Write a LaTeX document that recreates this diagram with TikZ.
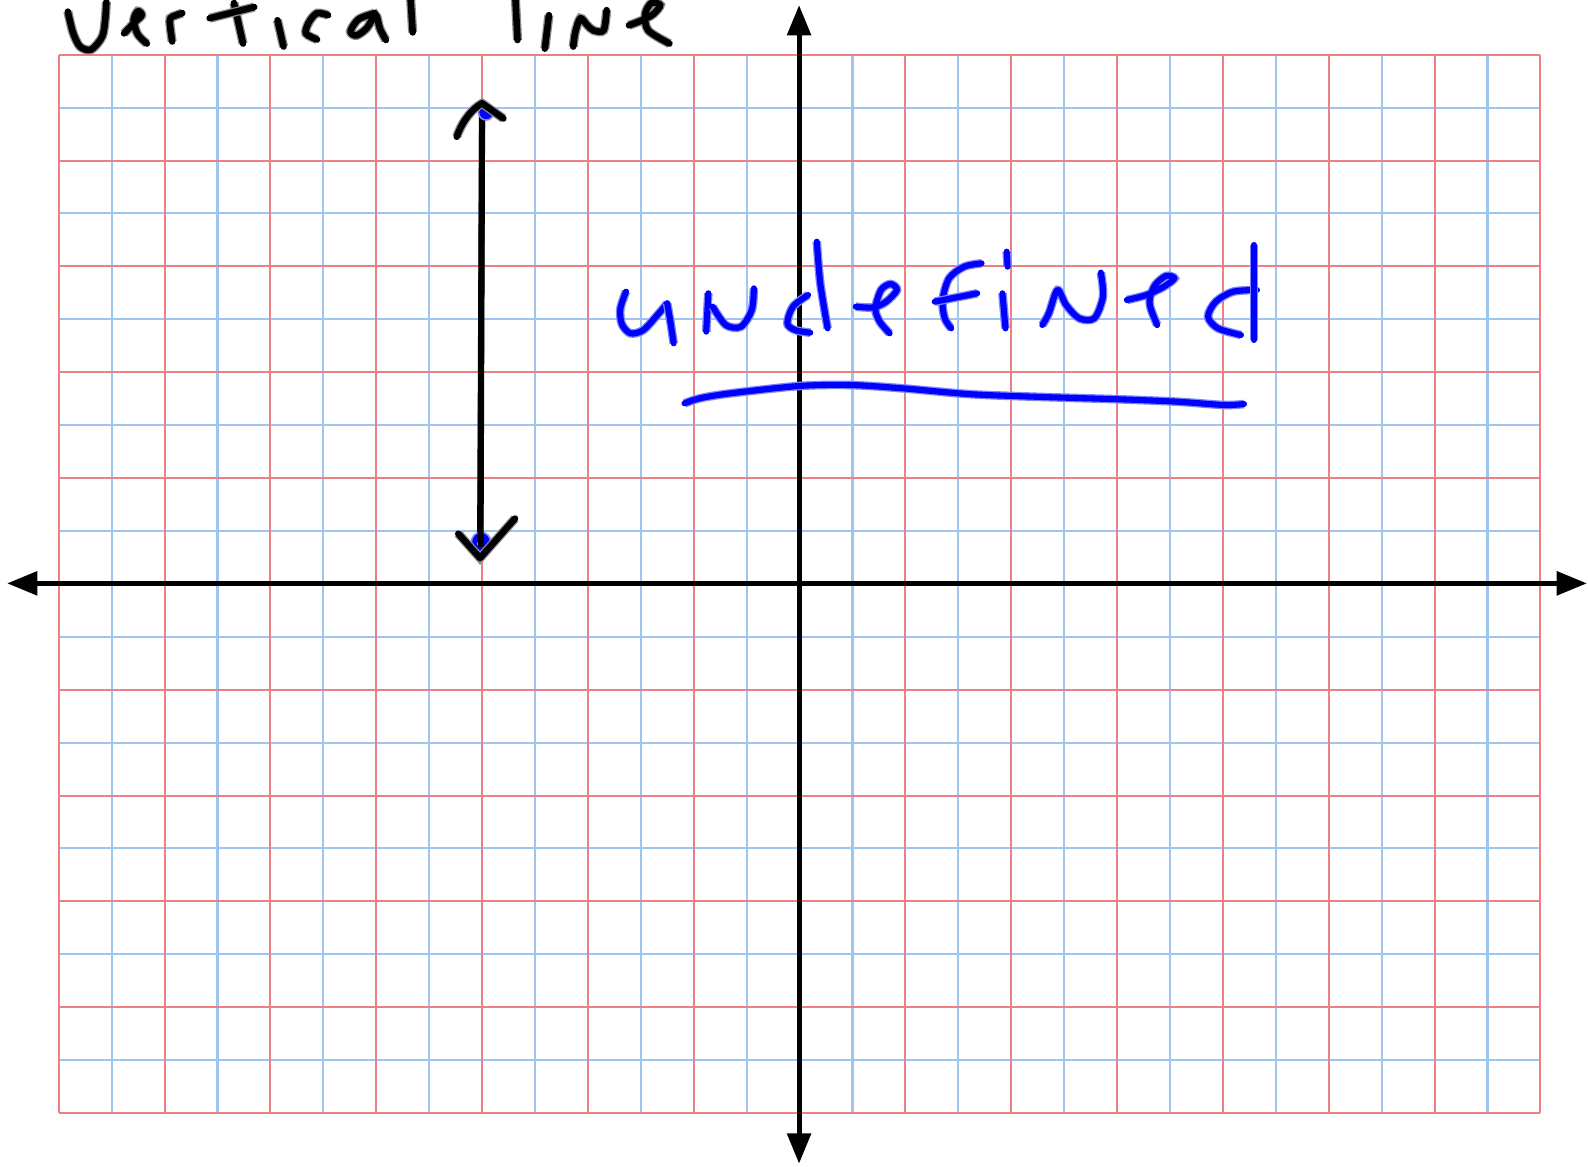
\documentclass[tikz,border=0pt]{standalone}
\usetikzlibrary{arrows.meta}
\definecolor{gridred}{RGB}{236,128,132}
\definecolor{gridblue}{RGB}{160,196,240}
\definecolor{ink}{RGB}{0,0,255}
\definecolor{inkhalo}{RGB}{125,135,255}
\definecolor{penhalo}{RGB}{140,140,140}
\tikzset{
  minorline/.style={gridblue, line width=2pt},
  majorline/.style={gridred, line width=2pt},
  axisline/.style={black, line width=5pt, {Triangle[length=30pt,width=23pt]}-{Triangle[length=30pt,width=23pt]}},
  bluepen/.style={ink, line width=6pt, line cap=round, line join=round, preaction={draw=inkhalo, line width=8.5pt}},
  blackpen/.style={black, line width=6.5pt, line cap=round, line join=round, preaction={draw=penhalo, line width=9pt}},
  shaft/.style={black, line width=6pt},
  bluedot/.style={fill=ink, draw=inkhalo, line width=1.5pt}
}
\begin{document}
\begin{tikzpicture}[x=1pt,y=-1pt]
\useasboundingbox (0,0) rectangle (1568,1152);
\fill[white] (0,0) rectangle (1568,1152);
% grid
\foreach \i in {1,3,...,27} \draw[minorline] ({58+\i*52.25},54) -- ({58+\i*52.25},1099);
\foreach \j in {1,3,...,19} \draw[minorline] (58,{54+\j*52.25}) -- (1521,{54+\j*52.25});
\foreach \i in {0,2,...,28} \draw[majorline] ({58+\i*52.25},54) -- ({58+\i*52.25},1099);
\foreach \j in {0,2,...,20} \draw[majorline] (58,{54+\j*52.25}) -- (1521,{54+\j*52.25});
% axes
\coordinate (xl) at (7,576);
\coordinate (xr) at (1567,576);
\coordinate (yt) at (789,5);
\coordinate (yb) at (789,1149);
\draw[axisline] (xl) -- (xr);
\draw[axisline] (yt) -- (yb);
% vertical line with hand-drawn heads
\coordinate (vt) at (476,102);
\coordinate (vb) at (474,551);
\draw[shaft] (vt) -- (vb);
\fill[bluedot] (480,111) circle (7.5);
\fill[bluedot] (475,535) circle (9.5);
\fill[white] (474,537) circle (3);
\draw[shaft] (476,120) -- (474.5,540);
\draw[blackpen] (451,135) .. controls (457,118) and (467,107) .. (vt) -- (497,117);
\draw[blackpen] (452.5,527) -- (vb) -- (508.5,512);
% "vertical line"
\draw[blackpen] plot[smooth] coordinates {(67,11.5) (72,32) (79,46) (90,49) (101,36) (104,18) (105,2)};
\draw[blackpen] plot[smooth] coordinates {(122.5,33) (133,22) (140,15) (136,11) (132,20) (136,34) (145,43)};
\draw[blackpen] plot[smooth] coordinates {(170,41) (168,26) (168,18) (174,15) (180,13)};
\draw[blackpen] (231,3) -- (240,43);
\draw[blackpen] (207,18) -- (251,7);
\draw[blackpen] (274,20) -- (280,46);
\draw[blackpen] plot[smooth] coordinates {(324,15) (313,13) (305,22) (302,33) (313,39)};
\draw[blackpen] plot[smooth] coordinates {(370,13) (354,19) (346,31) (352,35) (362,28) (371,15) (375,28) (381,39.5)};
\draw[blackpen] (405.5,0) -- (407.5,32);
\draw[blackpen] (509,0) -- (511,39.5);
\draw[blackpen] (542,15) -- (538,48);
\draw[blackpen] plot[smooth] coordinates {(566,46) (568,32) (573,18) (580,25) (586,30) (596,30) (599,10)};
\draw[blackpen] plot[smooth] coordinates {(621,25) (634,20) (645,14) (652,5) (643,3) (637,14) (640,30) (661,43)};
% "undefined"
\draw[bluepen] plot[smooth] coordinates {(618.1,288) (612.5,305) (614,320) (622.4,329.1) (635.2,325.9) (650,310) (658.8,299.5)};
\draw[bluepen] plot[smooth] coordinates {(658.8,299.5) (662,318) (665.2,339)};
\draw[bluepen] (699.4,289.6) -- (697.3,327.5);
\draw[bluepen] plot[smooth] coordinates {(703.7,302.8) (716.6,320.9) (731.6,322.6) (742.3,306.1) (744.4,284.7)};
\draw[bluepen] plot[smooth] coordinates {(797.9,291.3) (782.9,302.8) (777.4,319.3) (785.1,325.9) (800.1,328.5)};
\draw[bluepen] plot[smooth] coordinates {(806.5,238.6) (810,280) (817.2,324.2)};
\draw[bluepen] plot[smooth] coordinates {(845,302.8) (862.2,303.5) (875,297.9) (885.7,286.3) (879.3,280.4) (869.9,286.3) (864.3,304.5) (868.6,317.6) (878.4,329.1)};
\draw[bluepen] plot[smooth] coordinates {(969.2,260) (952.1,263.3) (937.1,274.8) (930.7,296.2) (932.8,314.3) (939.2,324.2)};
\draw[bluepen] (922.9,297.9) -- (964.9,289.6);
\draw[bluepen] (994,248.5) -- (994.9,263.3);
\draw[bluepen] (989.8,289.6) -- (992.8,324.2);
\draw[bluepen] plot[smooth] coordinates {(1029.2,320.9) (1035.6,309.4) (1044.1,286.3) (1052.7,301.2) (1065.6,314.3) (1080.5,314.3) (1089.1,292.9) (1087,269.2)};
\draw[bluepen] plot[smooth] coordinates {(1112.7,296.2) (1131.9,291.3) (1149.1,283.1) (1159.7,274.8) (1151.2,272.5) (1140.5,281.4) (1135.3,294.6) (1136.2,304.5) (1142.6,320.9)};
\draw[bluepen] plot[smooth] coordinates {(1241.1,286.3) (1217.6,288) (1200.4,297.9) (1192.8,312.7) (1202.6,324.2) (1225.3,330.8)};
\draw[bluepen] (1238.1,241.9) -- (1238.1,335.7);
% underline
\draw[bluepen] plot[smooth] coordinates {(675.9,398.3) (690.9,393.3) (720.9,388.4) (789.4,381.1) (840.8,380.2) (892.1,383.5) (956.4,389.1) (1020.6,391.7) (1106.2,394.3) (1161.9,396.6) (1209,399.9) (1228.3,398.9)};
\end{tikzpicture}
\end{document}
